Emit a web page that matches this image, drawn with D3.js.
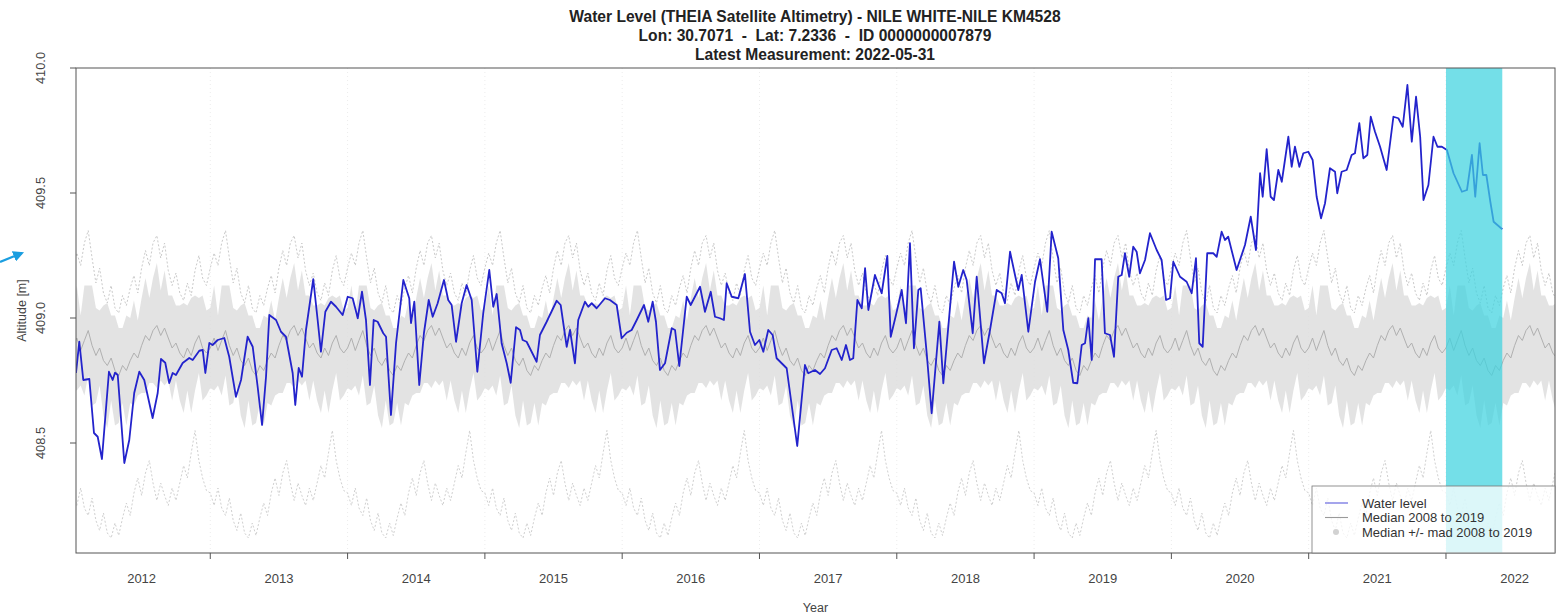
<!DOCTYPE html>
<html>
<head>
<meta charset="utf-8">
<script src="https://cdn.jsdelivr.net/npm/d3@7"></script>
<style>
  body { margin: 0; background: #fff; }
  svg { display: block; font-family: "Liberation Sans", Arial, Helvetica, sans-serif; }
  .pre { white-space: pre; }
</style>
</head>
<body>
<svg id="chart" width="1560" height="615"></svg>
<script>
// ---- chart text ----
const titleLines = [
  "Water Level (THEIA Satellite Altimetry) - NILE WHITE-NILE KM4528",
  "Lon: 30.7071  -  Lat: 7.2336  -  ID 0000000007879",
  "Latest Measurement: 2022-05-31"
];
const xTitle = "Year";
const yTitle = "Altitude [m]";
const legendLabels = ["Water level", "Median 2008 to 2019", "Median +/- mad 2008 to 2019"];

// ---- axes ----
const yearLabels = [2012, 2013, 2014, 2015, 2016, 2017, 2018, 2019, 2020, 2021, 2022];
const yearBreaks = [2013, 2014, 2015, 2016, 2017, 2018, 2019, 2020, 2021, 2022];
const yTicks = [408.5, 409.0, 409.5, 410.0];
const xDomain = [2012.022, 2022.794];
const yDomain = [408.06, 410.0];

// ---- latest period highlighted ----
const highlightStart = 2022.0;
const highlightEnd = 2022.41;

// ---- water level time series (decimal year, metres) ----
const levelTime = [
  2012.022, 2012.046, 2012.075, 2012.119, 2012.153, 2012.180, 2012.211, 2012.262, 2012.289, 2012.306,
  2012.326, 2012.374, 2012.410, 2012.446, 2012.483, 2012.519, 2012.580, 2012.617, 2012.641, 2012.672,
  2012.701, 2012.726, 2012.750, 2012.799, 2012.847, 2012.872, 2012.920, 2012.945, 2012.964, 2012.993,
  2013.017, 2013.054, 2013.102, 2013.138, 2013.187, 2013.224, 2013.272, 2013.309, 2013.345, 2013.377,
  2013.406, 2013.430, 2013.479, 2013.515, 2013.551, 2013.600, 2013.619, 2013.644, 2013.668, 2013.697,
  2013.750, 2013.782, 2013.806, 2013.838, 2013.879, 2013.916, 2013.964, 2014.001, 2014.037, 2014.074,
  2014.105, 2014.134, 2014.163, 2014.190, 2014.219, 2014.260, 2014.280, 2014.316, 2014.353, 2014.406,
  2014.449, 2014.462, 2014.486, 2014.522, 2014.556, 2014.591, 2014.620, 2014.656, 2014.702, 2014.733,
  2014.758, 2014.790, 2014.831, 2014.867, 2014.904, 2014.945, 2014.988, 2015.032, 2015.061, 2015.086,
  2015.122, 2015.159, 2015.188, 2015.227, 2015.256, 2015.275, 2015.304, 2015.377, 2015.401, 2015.450,
  2015.523, 2015.552, 2015.596, 2015.620, 2015.656, 2015.680, 2015.729, 2015.753, 2015.778, 2015.814,
  2015.875, 2015.911, 2015.960, 2015.996, 2016.033, 2016.069, 2016.106, 2016.159, 2016.190, 2016.222,
  2016.246, 2016.275, 2016.312, 2016.361, 2016.385, 2016.416, 2016.470, 2016.499, 2016.567, 2016.603,
  2016.645, 2016.676, 2016.712, 2016.741, 2016.761, 2016.798, 2016.846, 2016.894, 2016.931, 2016.967,
  2016.999, 2017.028, 2017.064, 2017.096, 2017.125, 2017.198, 2017.275, 2017.331, 2017.355, 2017.404,
  2017.441, 2017.477, 2017.526, 2017.562, 2017.599, 2017.630, 2017.659, 2017.683, 2017.713, 2017.745,
  2017.769, 2017.793, 2017.841, 2017.890, 2017.931, 2017.956, 2017.994, 2018.036, 2018.067, 2018.096,
  2018.125, 2018.157, 2018.174, 2018.218, 2018.254, 2018.310, 2018.339, 2018.417, 2018.448, 2018.484,
  2018.509, 2018.553, 2018.582, 2018.635, 2018.679, 2018.728, 2018.764, 2018.788, 2018.825, 2018.861,
  2018.885, 2018.910, 2018.958, 2019.007, 2019.043, 2019.096, 2019.128, 2019.176, 2019.213, 2019.249,
  2019.285, 2019.315, 2019.347, 2019.371, 2019.395, 2019.420, 2019.444, 2019.492, 2019.516, 2019.553,
  2019.582, 2019.613, 2019.638, 2019.662, 2019.693, 2019.722, 2019.747, 2019.771, 2019.808, 2019.844,
  2019.893, 2019.929, 2019.961, 2019.990, 2020.014, 2020.063, 2020.111, 2020.148, 2020.179, 2020.203,
  2020.228, 2020.261, 2020.305, 2020.330, 2020.366, 2020.390, 2020.414, 2020.475, 2020.536, 2020.578,
  2020.616, 2020.646, 2020.665, 2020.694, 2020.723, 2020.747, 2020.779, 2020.804, 2020.852, 2020.876,
  2020.900, 2020.932, 2020.961, 2020.997, 2021.029, 2021.058, 2021.090, 2021.119, 2021.155, 2021.192,
  2021.208, 2021.240, 2021.277, 2021.313, 2021.337, 2021.369, 2021.398, 2021.427, 2021.452, 2021.483,
  2021.520, 2021.568, 2021.617, 2021.653, 2021.685, 2021.719, 2021.751, 2021.782, 2021.812, 2021.836,
  2021.872, 2021.909, 2021.938, 2021.970, 2022.007, 2022.055, 2022.116, 2022.153, 2022.189, 2022.213,
  2022.245, 2022.269, 2022.294, 2022.323, 2022.347, 2022.410
];
const levelValue = [
  408.780, 408.905, 408.752, 408.756, 408.540, 408.525, 408.436, 408.785, 408.752, 408.781,
  408.772, 408.420, 408.512, 408.700, 408.785, 408.752, 408.600, 408.700, 408.836, 408.821,
  408.740, 408.780, 408.772, 408.820, 408.840, 408.832, 408.869, 408.872, 408.780, 408.900,
  408.892, 408.912, 408.920, 408.845, 408.685, 408.752, 408.925, 408.885, 408.725, 408.572,
  408.765, 409.012, 408.992, 408.945, 408.925, 408.780, 408.652, 408.800, 408.765, 408.952,
  409.155, 408.992, 408.865, 409.025, 409.065, 409.045, 409.012, 409.085, 409.079, 408.999,
  409.105, 408.992, 408.732, 408.992, 408.985, 408.939, 408.925, 408.612, 408.900, 409.152,
  409.079, 408.980, 409.065, 408.732, 408.939, 409.072, 409.005, 409.059, 409.152, 409.072,
  409.052, 408.905, 409.059, 409.132, 409.072, 408.785, 409.019, 409.192, 409.045, 409.096,
  408.899, 408.819, 408.741, 408.963, 408.952, 408.912, 408.905, 408.825, 408.932, 408.985,
  409.069, 409.052, 408.885, 408.952, 408.819, 408.992, 409.065, 409.045, 409.059, 409.039,
  409.079, 409.072, 409.052, 408.919, 408.941, 408.952, 408.992, 409.052, 408.985, 409.065,
  408.985, 408.792, 408.819, 408.959, 408.952, 408.808, 409.085, 409.052, 409.125, 409.025,
  409.105, 409.005, 408.999, 408.992, 409.139, 409.085, 409.079, 409.176, 408.945, 408.892,
  408.912, 408.865, 408.952, 408.932, 408.839, 408.799, 408.488, 408.812, 408.779, 408.792,
  408.776, 408.799, 408.872, 408.879, 408.832, 408.892, 408.832, 408.839, 409.072, 409.039,
  409.199, 409.032, 409.172, 409.099, 409.248, 408.925, 409.012, 409.112, 408.979, 409.299,
  408.879, 409.112, 409.119, 408.859, 408.619, 408.985, 408.739, 409.225, 409.125, 409.192,
  409.152, 408.939, 409.165, 408.819, 408.952, 409.112, 409.099, 409.059, 409.265, 409.172,
  409.112, 409.172, 408.945, 409.145, 409.235, 409.025, 409.345, 409.239, 408.952, 408.872,
  408.741, 408.739, 408.892, 408.899, 408.999, 408.832, 409.235, 409.235, 408.939, 408.932,
  408.845, 409.165, 409.172, 409.259, 409.165, 409.285, 409.265, 409.179, 409.232, 409.339,
  409.272, 409.232, 409.072, 409.079, 409.225, 409.165, 409.145, 409.099, 409.239, 408.899,
  408.885, 409.259, 409.259, 409.245, 409.345, 409.312, 409.325, 409.192, 409.292, 409.405,
  409.272, 409.579, 409.485, 409.675, 409.485, 409.472, 409.592, 409.545, 409.725, 409.605,
  409.685, 409.605, 409.659, 409.665, 409.632, 409.485, 409.399, 409.459, 409.599, 409.585,
  409.499, 409.585, 409.592, 409.652, 409.659, 409.779, 409.639, 409.652, 409.805, 409.745,
  409.685, 409.592, 409.805, 409.799, 409.765, 409.932, 409.705, 409.885, 409.725, 409.472,
  409.532, 409.725, 409.685, 409.685, 409.672, 409.579, 409.505, 409.512, 409.652, 409.485,
  409.699, 409.572, 409.572, 409.465, 409.385, 409.355
];

// ---- 2008-2019 day-of-year climatology (fraction of year, metres) ----
const climFrac = [
  0.000, 0.028, 0.056, 0.083, 0.111, 0.139, 0.167, 0.194, 0.222, 0.250, 0.278, 0.306,
  0.333, 0.361, 0.389, 0.417, 0.444, 0.472, 0.500, 0.528, 0.556, 0.583, 0.611, 0.639,
  0.667, 0.694, 0.722, 0.750, 0.778, 0.806, 0.833, 0.861, 0.889, 0.917, 0.944, 0.972
];
const climMedian = [
  408.88, 408.92, 408.87, 408.91, 408.95, 408.89, 408.85, 408.88, 408.83, 408.81, 408.84, 408.79,
  408.77, 408.81, 408.79, 408.83, 408.86, 408.84, 408.89, 408.93, 408.91, 408.95, 408.97, 408.93,
  408.96, 408.92, 408.88, 408.90, 408.86, 408.84, 408.88, 408.85, 408.90, 408.93, 408.88, 408.86
];
const climMad = [
  0.16, 0.21, 0.14, 0.22, 0.18, 0.24, 0.19, 0.15, 0.22, 0.25, 0.17, 0.22,
  0.19, 0.15, 0.22, 0.17, 0.21, 0.15, 0.19, 0.23, 0.17, 0.21, 0.25, 0.18,
  0.23, 0.17, 0.21, 0.15, 0.19, 0.22, 0.17, 0.23, 0.19, 0.15, 0.21, 0.17
];
const climUpper = [
  409.20, 409.26, 409.21, 409.30, 409.35, 409.24, 409.14, 409.20, 409.10, 409.06, 409.13, 409.04,
  409.02, 409.09, 409.05, 409.12, 409.17, 409.10, 409.20, 409.27, 409.21, 409.30, 409.33, 409.24,
  409.30, 409.19, 409.13, 409.18, 409.10, 409.07, 409.14, 409.09, 409.19, 409.25, 409.16, 409.13
];
const climLower = [
  408.30, 408.25, 408.32, 408.24, 408.21, 408.28, 408.19, 408.15, 408.22, 408.14, 408.12, 408.18,
  408.13, 408.20, 408.26, 408.21, 408.30, 408.36, 408.29, 408.38, 408.43, 408.34, 408.27, 408.34,
  408.29, 408.25, 408.32, 408.27, 408.34, 408.41, 408.36, 408.46, 408.55, 408.43, 408.36, 408.31
];
const climYears = [2011, 2012, 2013, 2014, 2015, 2016, 2017, 2018, 2019, 2020, 2021, 2022, 2023];

// ---- layout ----
const plot = { left: 76, right: 1555, top: 68, bottom: 553 };

const svg = d3.select("#chart");
const x = d3.scaleLinear().domain(xDomain).range([plot.left, plot.right]);
const y = d3.scaleLinear().domain(yDomain).range([plot.bottom, plot.top]);

// repeat the day-of-year climatology over every year on the axis
const clim = [];
climYears.forEach(yr => climFrac.forEach((f, i) => clim.push({
  t: yr + f, med: climMedian[i],
  lo: climMedian[i] - climMad[i], hi: climMedian[i] + climMad[i],
  up: climUpper[i], dn: climLower[i]
})));
const level = levelTime.map((t, i) => ({ t, v: levelValue[i] }));

const defs = svg.append("defs");
defs.append("clipPath").attr("id", "plotClip")
  .append("rect").attr("x", plot.left).attr("y", plot.top)
  .attr("width", plot.right - plot.left).attr("height", plot.bottom - plot.top);

const g = svg.append("g").attr("clip-path", "url(#plotClip)");

// faint year grid
g.selectAll("line.grid").data(yearBreaks).join("line").attr("class", "grid")
  .attr("x1", d => x(d)).attr("x2", d => x(d))
  .attr("y1", plot.top).attr("y2", plot.bottom)
  .attr("stroke", "#ececec").attr("stroke-width", 1).attr("stroke-dasharray", "1,3");

// median +/- mad band
g.append("path").datum(clim)
  .attr("d", d3.area().x(d => x(d.t)).y0(d => y(d.lo)).y1(d => y(d.hi)))
  .attr("fill", "#dcdcdc").attr("fill-opacity", 0.8);

// upper and lower envelopes (dotted)
[["up", "#cacaca"], ["dn", "#d0d0d0"]].forEach(([k, c]) => {
  g.append("path").datum(clim)
    .attr("d", d3.line().x(d => x(d.t)).y(d => y(d[k])))
    .attr("fill", "none").attr("stroke", c).attr("stroke-width", 1)
    .attr("stroke-dasharray", "2,2");
});

// median line
g.append("path").datum(clim)
  .attr("d", d3.line().x(d => x(d.t)).y(d => y(d.med)))
  .attr("fill", "none").attr("stroke", "#b0b0b0").attr("stroke-width", 1);

// water level
g.append("path").datum(level)
  .attr("d", d3.line().x(d => x(d.t)).y(d => y(d.v)))
  .attr("fill", "none").attr("stroke", "#2323cc").attr("stroke-width", 1.8)
  .attr("stroke-linejoin", "round");

// latest period highlight
g.append("rect")
  .attr("x", x(highlightStart)).attr("width", x(highlightEnd) - x(highlightStart))
  .attr("y", plot.top).attr("height", plot.bottom - plot.top)
  .attr("fill", "#3fd3df").attr("fill-opacity", 0.72);

// plot frame
svg.append("rect").attr("x", plot.left).attr("y", plot.top)
  .attr("width", plot.right - plot.left).attr("height", plot.bottom - plot.top)
  .attr("fill", "none").attr("stroke", "#555").attr("stroke-width", 1);

// x axis: ticks at year boundaries, labels mid-year
const axisColor = "#444";
svg.append("g").selectAll("line").data(yearBreaks).join("line")
  .attr("x1", d => x(d)).attr("x2", d => x(d))
  .attr("y1", plot.bottom).attr("y2", plot.bottom + 6)
  .attr("stroke", "#555");
svg.append("g").selectAll("text").data(yearLabels).join("text")
  .attr("x", d => x(d + 0.5)).attr("y", plot.bottom + 30)
  .attr("text-anchor", "middle").attr("font-size", 13).attr("fill", axisColor)
  .text(d => d);
svg.append("text").attr("x", (plot.left + plot.right) / 2).attr("y", 612)
  .attr("text-anchor", "middle").attr("font-size", 12.5).attr("fill", axisColor).text(xTitle);

// y axis
svg.append("g").selectAll("line").data(yTicks).join("line")
  .attr("x1", plot.left - 6).attr("x2", plot.left)
  .attr("y1", d => y(d)).attr("y2", d => y(d))
  .attr("stroke", "#555");
svg.append("g").selectAll("text").data(yTicks).join("text")
  .attr("transform", d => `translate(45,${y(d)}) rotate(-90)`)
  .attr("text-anchor", "middle").attr("font-size", 12.8).attr("fill", axisColor)
  .text(d => d3.format(".1f")(d));
svg.append("text")
  .attr("transform", `translate(25.5,${(plot.top + plot.bottom) / 2}) rotate(-90)`)
  .attr("text-anchor", "middle").attr("font-size", 12.5).attr("fill", axisColor).text(yTitle);

// marker arrow at the left margin
defs.append("marker").attr("id", "arrowHead").attr("viewBox", "0 0 10 10")
  .attr("refX", 8).attr("refY", 5).attr("markerWidth", 5).attr("markerHeight", 5)
  .attr("orient", "auto")
  .append("path").attr("d", "M0,0 L10,5 L0,10 Z").attr("fill", "#1b9ee0");
svg.append("line").attr("x1", 0).attr("y1", 262).attr("x2", 22).attr("y2", 253)
  .attr("stroke", "#1b9ee0").attr("stroke-width", 2.2).attr("marker-end", "url(#arrowHead)");

// title
svg.append("g").selectAll("text").data(titleLines).join("text")
  .attr("class", "pre")
  .attr("x", 815).attr("y", (d, i) => 22 + i * 19)
  .attr("text-anchor", "middle").attr("font-size", 15.6).attr("font-weight", "bold")
  .attr("fill", "#222").text(d => d);

// legend
const lg = svg.append("g");
lg.append("rect").attr("x", 1312).attr("y", 486).attr("width", plot.right - 1312).attr("height", plot.bottom - 486)
  .attr("fill", "#fff").attr("fill-opacity", 0.75).attr("stroke", "#777").attr("stroke-width", 0.8);
const rows = [503, 517.5, 532];
lg.append("line").attr("x1", 1325).attr("x2", 1348).attr("y1", rows[0]).attr("y2", rows[0])
  .attr("stroke", "#6a6adf").attr("stroke-width", 1.2);
lg.append("line").attr("x1", 1325).attr("x2", 1348).attr("y1", rows[1]).attr("y2", rows[1])
  .attr("stroke", "#9a9a9a").attr("stroke-width", 1.1);
lg.append("circle").attr("cx", 1336).attr("cy", rows[2]).attr("r", 3)
  .attr("fill", "#d2d2d2");
lg.selectAll("text").data(legendLabels).join("text")
  .attr("x", 1362).attr("y", (d, i) => rows[i] + 4.6)
  .attr("font-size", 13).attr("fill", "#333").text(d => d);
</script>
</body>
</html>
